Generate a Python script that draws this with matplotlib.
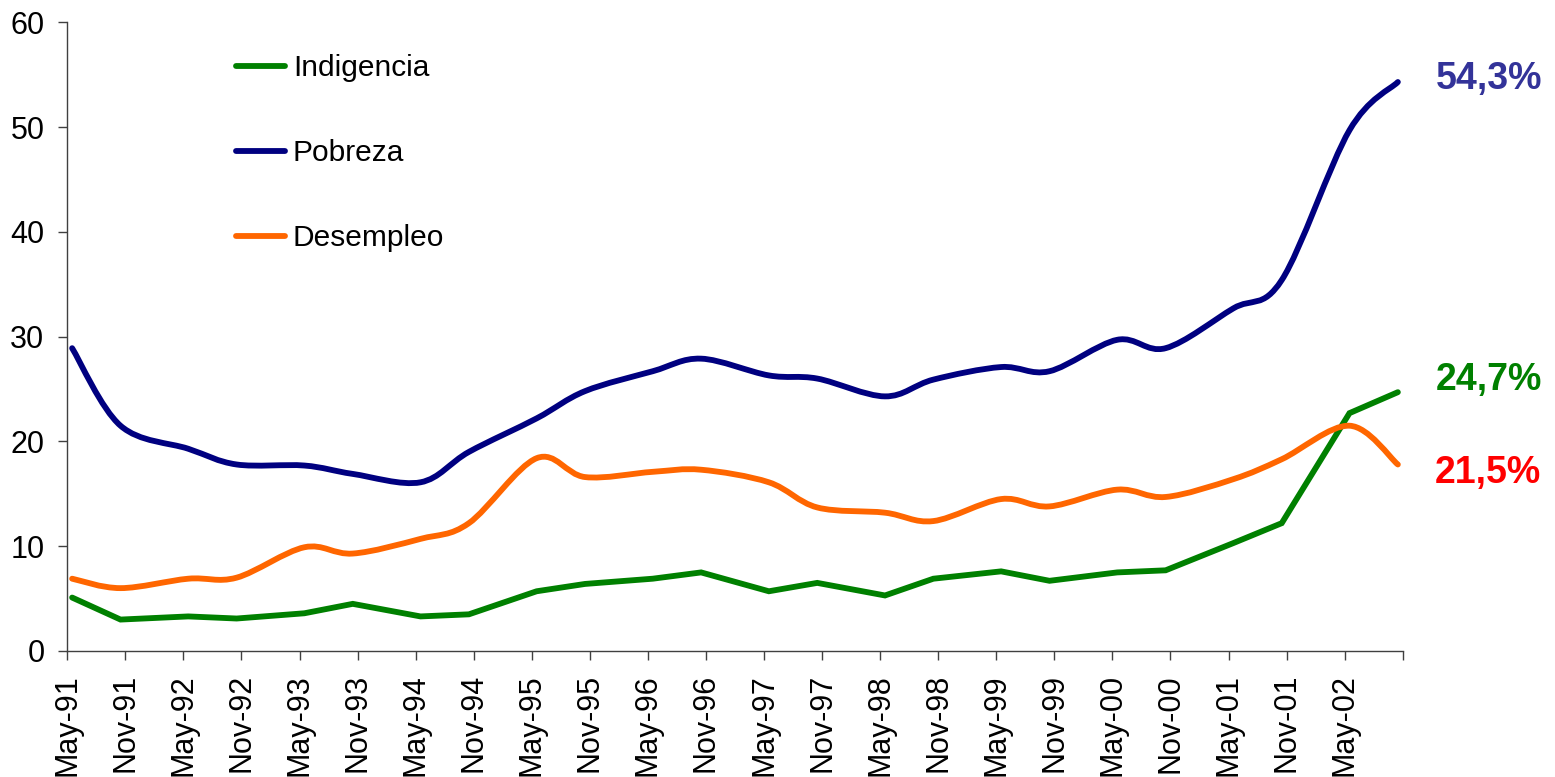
import numpy as np
import pandas as pd
import matplotlib
matplotlib.use("Agg")
import matplotlib.pyplot as plt
from matplotlib.path import Path
from matplotlib.patches import PathPatch
from matplotlib.lines import Line2D

plt.rcParams['font.family'] = ['Liberation Sans', 'DejaVu Sans']

# EPH survey waves (May and October of each year)
waves = ['1991-05', '1991-10', '1992-05', '1992-10', '1993-05', '1993-10',
         '1994-05', '1994-10', '1995-05', '1995-10', '1996-05', '1996-10',
         '1997-05', '1997-10', '1998-05', '1998-10', '1999-05', '1999-10',
         '2000-05', '2000-10', '2001-05', '2001-10', '2002-05', '2002-10']

indigencia = [5.1, 3.0, 3.3, 3.1, 3.6, 4.5, 3.3, 3.5, 5.7, 6.4, 6.9, 7.5,
              5.7, 6.5, 5.3, 6.9, 7.6, 6.7, 7.5, 7.7, 10.3, 12.2, 22.7, 24.7]
pobreza = [28.9, 21.5, 19.3, 17.8, 17.7, 16.9, 16.1, 19.0, 22.2, 24.8, 26.7, 27.9,
           26.3, 26.0, 24.3, 25.9, 27.1, 26.7, 29.7, 28.9, 32.7, 35.4, 49.7, 54.3]
desempleo = [6.9, 6.0, 6.9, 7.0, 9.9, 9.3, 10.7, 12.2, 18.4, 16.6, 17.1, 17.3,
             16.1, 13.7, 13.2, 12.4, 14.5, 13.8, 15.4, 14.7, 16.4, 18.3, 21.5, 17.8]

tick_labels = ['May-91', 'Nov-91', 'May-92', 'Nov-92', 'May-93', 'Nov-93',
               'May-94', 'Nov-94', 'May-95', 'Nov-95', 'May-96', 'Nov-96',
               'May-97', 'Nov-97', 'May-98', 'Nov-98', 'May-99', 'Nov-99',
               'May-00', 'Nov-00', 'May-01', 'Nov-01', 'May-02', '']

names = ['Indigencia', 'Pobreza', 'Desempleo']
colors = ['#008000', '#000080', '#FF6600']

# month offsets from May 1991, each wave placed mid-month
start = pd.Period('1991-05', 'M')
x = np.array([(pd.Period(w, 'M') - start).n + 0.5 for w in waves])
xticks = np.arange(0, 6 * len(tick_labels), 6)


def smooth_path(xs, ys):
    """Cubic Bezier path through the points (Catmull-Rom style control points)."""
    pts = np.column_stack([xs, ys])
    n = len(pts)
    verts = [pts[0]]
    codes = [Path.MOVETO]
    for i in range(n - 1):
        p0 = pts[i - 1] if i > 0 else pts[i]
        p1 = pts[i]
        p2 = pts[i + 1]
        p3 = pts[i + 2] if i + 2 < n else pts[i + 1]
        c1 = p1 + (p2 - p0) / 6.0
        c2 = p2 - (p3 - p1) / 6.0
        verts += [c1, c2, p2]
        codes += [Path.CURVE4] * 3
    return Path(np.array(verts), codes)


W, H = 1555, 777
fig = plt.figure(figsize=(W / 100, H / 100), dpi=100)
ax = fig.add_axes([67.3 / W, 1 - 651 / H, (1402.7 - 67.3) / W, (651 - 22.3) / H])

lw = 4.2
ax.plot(x, indigencia, color=colors[0], lw=lw, solid_capstyle='round',
        solid_joinstyle='miter', zorder=3)
for vals, col in [(pobreza, colors[1]), (desempleo, colors[2])]:
    ax.add_patch(PathPatch(smooth_path(x, vals), fill=False, edgecolor=col,
                           lw=lw, capstyle='round', joinstyle='round', zorder=3))

ax.set_xlim(0, 138)
ax.set_ylim(0, 60)
ax.set_yticks(np.arange(0, 61, 10))
ax.set_xticks(xticks)
ax.set_xticklabels(tick_labels, rotation=90, ha='center', va='top')

for side in ['top', 'right']:
    ax.spines[side].set_visible(False)
for side in ['left', 'bottom']:
    ax.spines[side].set_color('#404040')
    ax.spines[side].set_linewidth(1.0)
ax.tick_params(axis='both', direction='out', length=6.5, width=1.0,
               color='#404040', labelsize=22, pad=10, labelcolor='black')

handles = [Line2D([], [], color=c, lw=lw, solid_capstyle='round') for c in colors]
fig.legend(handles, names, loc='upper left',
           bbox_to_anchor=(235.5 / W, 1 - 54.5 / H),
           frameon=False, fontsize=21.5, handlelength=1.67, handletextpad=0.25,
           labelspacing=1.9, borderpad=0, borderaxespad=0)

# end-of-period value labels
ax.annotate(f"{pobreza[-1]:.1f}%".replace('.', ','), xy=(x[-1], pobreza[-1]),
            xytext=(27, 2.5), textcoords='offset points', ha='left', va='center',
            fontsize=27, fontweight='bold', color='#333399')
ax.annotate(f"{indigencia[-1]:.1f}%".replace('.', ','), xy=(x[-1], indigencia[-1]),
            xytext=(27, 8.6), textcoords='offset points', ha='left', va='center',
            fontsize=27, fontweight='bold', color='#008000')
imax = int(np.argmax(desempleo))
ax.annotate(f"{desempleo[imax]:.1f}%".replace('.', ','), xy=(x[imax], desempleo[imax]),
            xytext=(61.6, -34), textcoords='offset points', ha='left', va='center',
            fontsize=27, fontweight='bold', color='#FF0000')

fig.savefig('out.png', dpi=100)
